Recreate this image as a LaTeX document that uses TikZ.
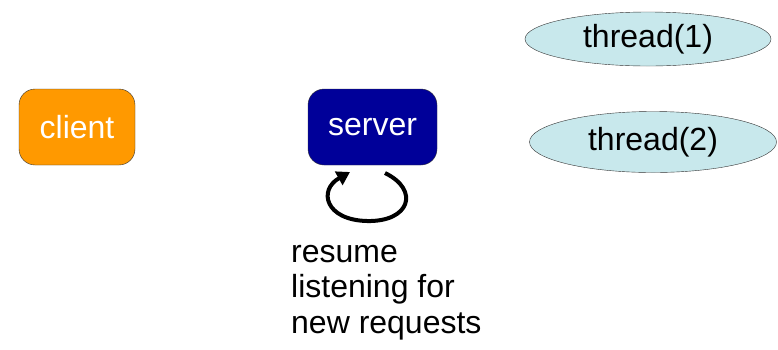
\documentclass[tikz,border=0pt]{standalone}
\usepackage{fontspec}
\setmainfont{Liberation Sans}
\usetikzlibrary{shapes,arrows,arrows.meta,positioning}
\definecolor{clientorange}{RGB}{255,153,0}
\definecolor{serverblue}{RGB}{0,0,153}
\definecolor{threadcyan}{RGB}{200,232,236}

\begin{document}
\begin{tikzpicture}[x=1pt, y=-1pt]
		\tikzstyle{Proc}	= [rounded corners=16pt, draw=black!80, minimum width=116pt, minimum height=76pt, inner sep=0pt, text=white, font=\fontsize{32}{36}\selectfont]
		\tikzstyle{Thread}	= [ellipse, draw=black!80, fill=threadcyan, inner sep=0pt, font=\fontsize{32}{36}\selectfont]
		\tikzstyle{Loop}	= [line width=4pt, -{Triangle[length=13pt, width=15pt]}]

		\useasboundingbox (0,0) rectangle (778,349);

		\node (client) at (77, 127) [Proc, fill=clientorange] {client};
		\node (server) at (372.5, 127) [Proc, fill=serverblue, minimum width=129pt] {server};
		\node (th1) at (648, 39) [Thread, minimum width=246pt, minimum height=54pt] {thread(1)};
		\node (th2) at (653, 142) [Thread, minimum width=247pt, minimum height=61pt] {thread(2)};

		\coordinate (ls) at (385, 173);
		\coordinate (le) at (350, 172);
		\draw [Loop] (ls) .. controls (420, 190) and (410, 222) .. (367, 221) .. controls (325, 220) and (318, 190) .. (le);

		\node (note) at (291, 245) [anchor=north west, align=left, inner sep=0pt, font=\fontsize{32}{35.5}\selectfont] {resume\\listening for\\new requests};
	\end{tikzpicture}
\end{document}
